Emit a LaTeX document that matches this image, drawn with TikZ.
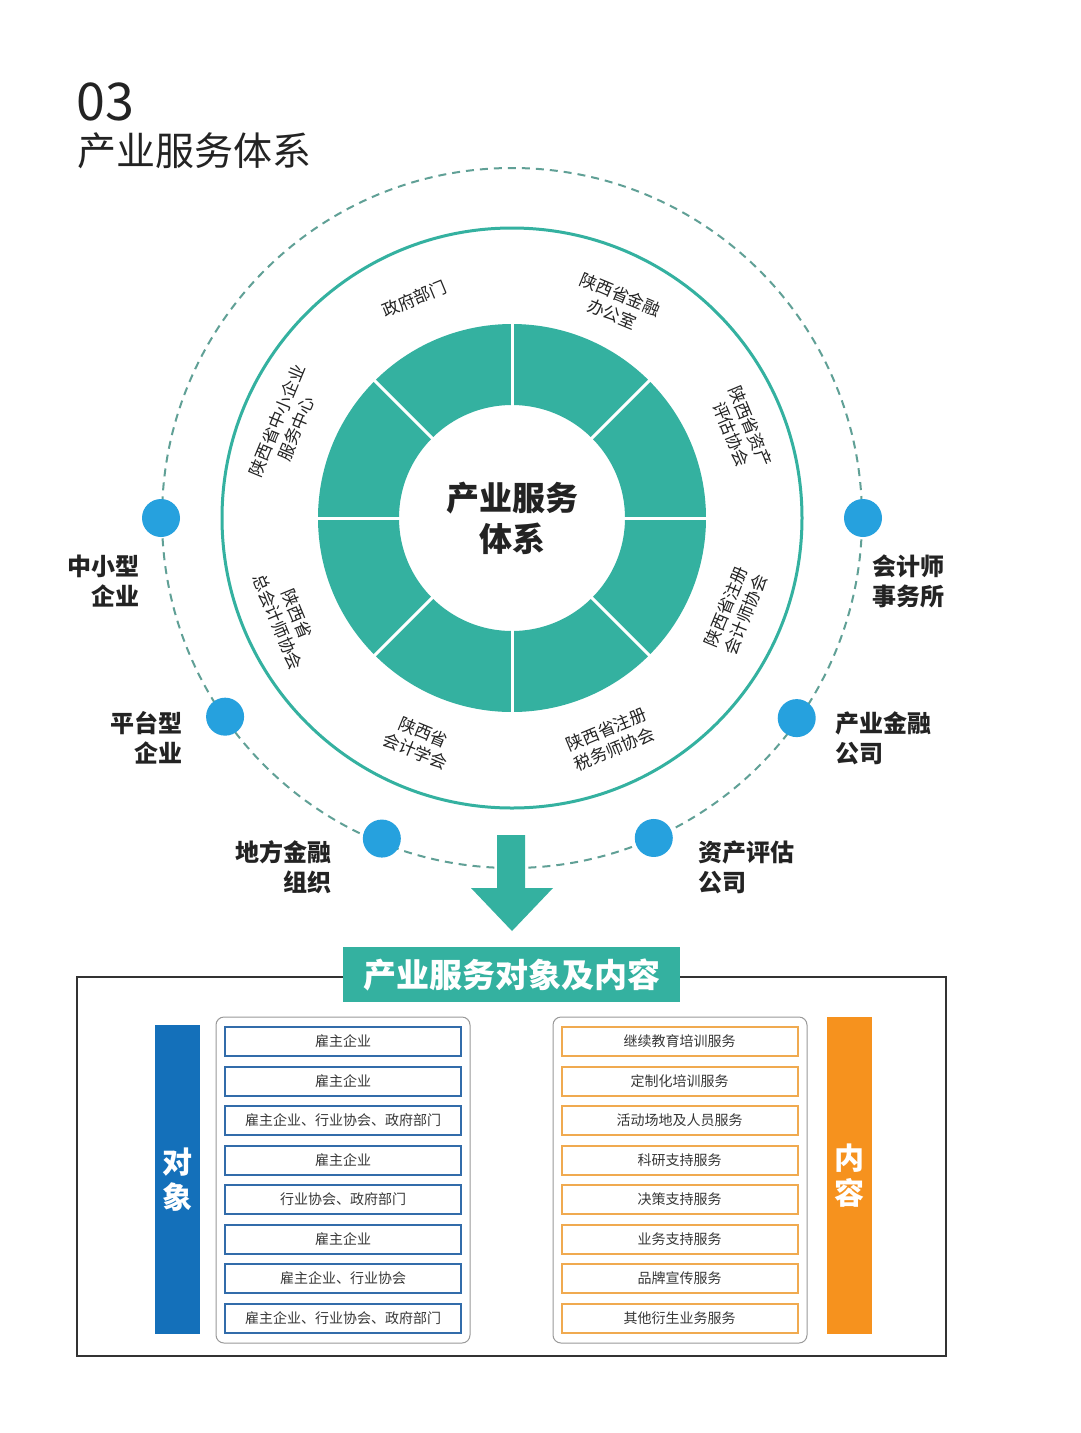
\documentclass[tikz,border=0pt]{standalone}
\usepackage{fontspec}
\setmainfont{Noto Sans CJK SC}
\usetikzlibrary{positioning,calc}

\definecolor{ringteal}{RGB}{52,177,160}
\definecolor{dashteal}{RGB}{96,160,150}
\definecolor{dotblue}{RGB}{38,161,222}
\definecolor{barblue}{RGB}{20,112,186}
\definecolor{rowblue}{RGB}{50,108,170}
\definecolor{barorange}{RGB}{246,146,30}
\definecolor{roworange}{RGB}{240,170,80}
\definecolor{txtdark}{RGB}{35,35,35}
\definecolor{rowtxt}{RGB}{55,55,55}

\tikzset{
  ringlbl/.style={font=\fontsize{17}{21}\selectfont, text=txtdark, align=center, inner sep=0},
  sidelbl/.style={font=\bfseries\fontsize{24}{30}\selectfont, text=txtdark, inner sep=0},
  hubdot/.style={circle, fill=dotblue, minimum size=38, inner sep=0},
  rowl/.style={draw=rowblue, line width=2, minimum width=236, minimum height=29, inner sep=0,
    font=\fontsize{14}{14}\selectfont, text=rowtxt},
  rowr/.style={rowl, draw=roworange},
  panel/.style={draw=black!40, line width=1, rounded corners=8},
  sidebar/.style={inner sep=0, minimum width=45, text=white, align=center,
    font=\bfseries\fontsize{30}{35}\selectfont}
}

\begin{document}
\begin{tikzpicture}[x=1pt, y=1pt]
\fill[white] (0,0) rectangle (1080,-1433);
\useasboundingbox (0,0) rectangle (1080,-1433);

% title
\node[anchor=base west, inner sep=0, text=txtdark, font=\fontsize{52}{52}\selectfont] (num) at (76,-120) {03};
\node[anchor=base west, inner sep=0, text=txtdark, font=\fontsize{39}{39}\selectfont] (title) at (77,-165) {产业服务体系};

\coordinate (c) at (512,-518);

% rings
\draw[dashteal, line width=2, dash pattern=on 8pt off 6pt] (c) circle (350);
\draw[ringteal, line width=3] (c) circle (290);
\fill[ringteal, even odd rule] (c) circle (194) (c) circle (113);
\foreach \a in {0,45,...,315}
  \draw[white, line width=3] ($(c)+(\a:112)$) -- ($(c)+(\a:195)$);
\node[font=\bfseries\fontsize{33}{41}\selectfont, align=center, text=txtdark, inner sep=0] (hub) at (c) {产业服务\\体系};

\foreach \a/\d/\r/\t in {114/240/22.5/{政府部门},
    64/238/-22.5/{陕西省金融\\办公室},
    21/245/-67.5/{陕西省资产\\评估协会},
    -22.5/242/67.5/{陕西省注册\\会计师协会},
    -66/242/22.5/{陕西省注册\\税务师协会},
    -112.5/242/-22.5/{陕西省\\会计学会},
    -156/246/-67.5/{陕西省\\总会计师协会},
    157.5/244/67.5/{陕西省中小企业\\服务中心}}
  \node[ringlbl, rotate=\r] at ($(c)+(\a:\d)$) {\t};

% dots on the dashed circle
\node[hubdot] (d1) at ($(c)+(180:351)$) {};
\node[hubdot] (d2) at ($(c)+(0:351)$) {};
\node[hubdot] (d3) at ($(c)+(214.7:349)$) {};
\node[hubdot] (d4) at ($(c)+(324.9:348)$) {};
\node[hubdot] (d5) at ($(c)+(247.9:346)$) {};
\node[hubdot] (d6) at ($(c)+(293.9:350)$) {};

\node[sidelbl, anchor=east, align=right] (l1) at (140,-581) {中小型\\企业};
\node[sidelbl, anchor=west, align=left] (l2) at (872,-581) {会计师\\事务所};
\node[sidelbl, anchor=east, align=right] (l3) at (183,-738) {平台型\\企业};
\node[sidelbl, anchor=west, align=left] (l4) at (835,-738) {产业金融\\公司};
\node[sidelbl, anchor=east, align=right] (l5) at (332,-867) {地方金融\\组织};
\node[sidelbl, anchor=west, align=left] (l6) at (698,-867) {资产评估\\公司};

% arrow
\fill[ringteal] (497,-835) -- (525,-835) -- (525,-888) -- (553,-888) -- (512,-931)
  -- (471,-888) -- (497,-888) -- cycle;

% lower box
\draw[black!80, line width=1.5] (77,-977) rectangle (946,-1356);
\node[fill=ringteal, text=white, minimum width=337, minimum height=55, inner sep=0,
  font=\bfseries\fontsize{33}{33}\selectfont] (banner) at (511.5,-974.5) {产业服务对象及内容};

\draw[panel] (216,-1017) rectangle (470,-1343);
\draw[panel] (553,-1017) rectangle (807,-1343);

\node[sidebar, fill=barblue, minimum height=309] (objbar) at (177,-1179.5) {对\\象};
\node[sidebar, fill=barorange, minimum height=317] (svcbar) at (849.5,-1175.5) {内\\容};

\foreach \t [count=\i from 0] in {雇主企业, 雇主企业, 雇主企业、行业协会、政府部门, 雇主企业,
    行业协会、政府部门, 雇主企业, 雇主企业、行业协会, 雇主企业、行业协会、政府部门}
  \node[rowl] (obj\i) at (343,{-1041.5-39.5*\i}) {\t};

\foreach \t [count=\i from 0] in {继续教育培训服务, 定制化培训服务, 活动场地及人员服务, 科研支持服务,
    决策支持服务, 业务支持服务, 品牌宣传服务, 其他衍生业务服务}
  \node[rowr] (svc\i) at (679.5,{-1041.5-39.5*\i}) {\t};
\end{tikzpicture}
\end{document}
